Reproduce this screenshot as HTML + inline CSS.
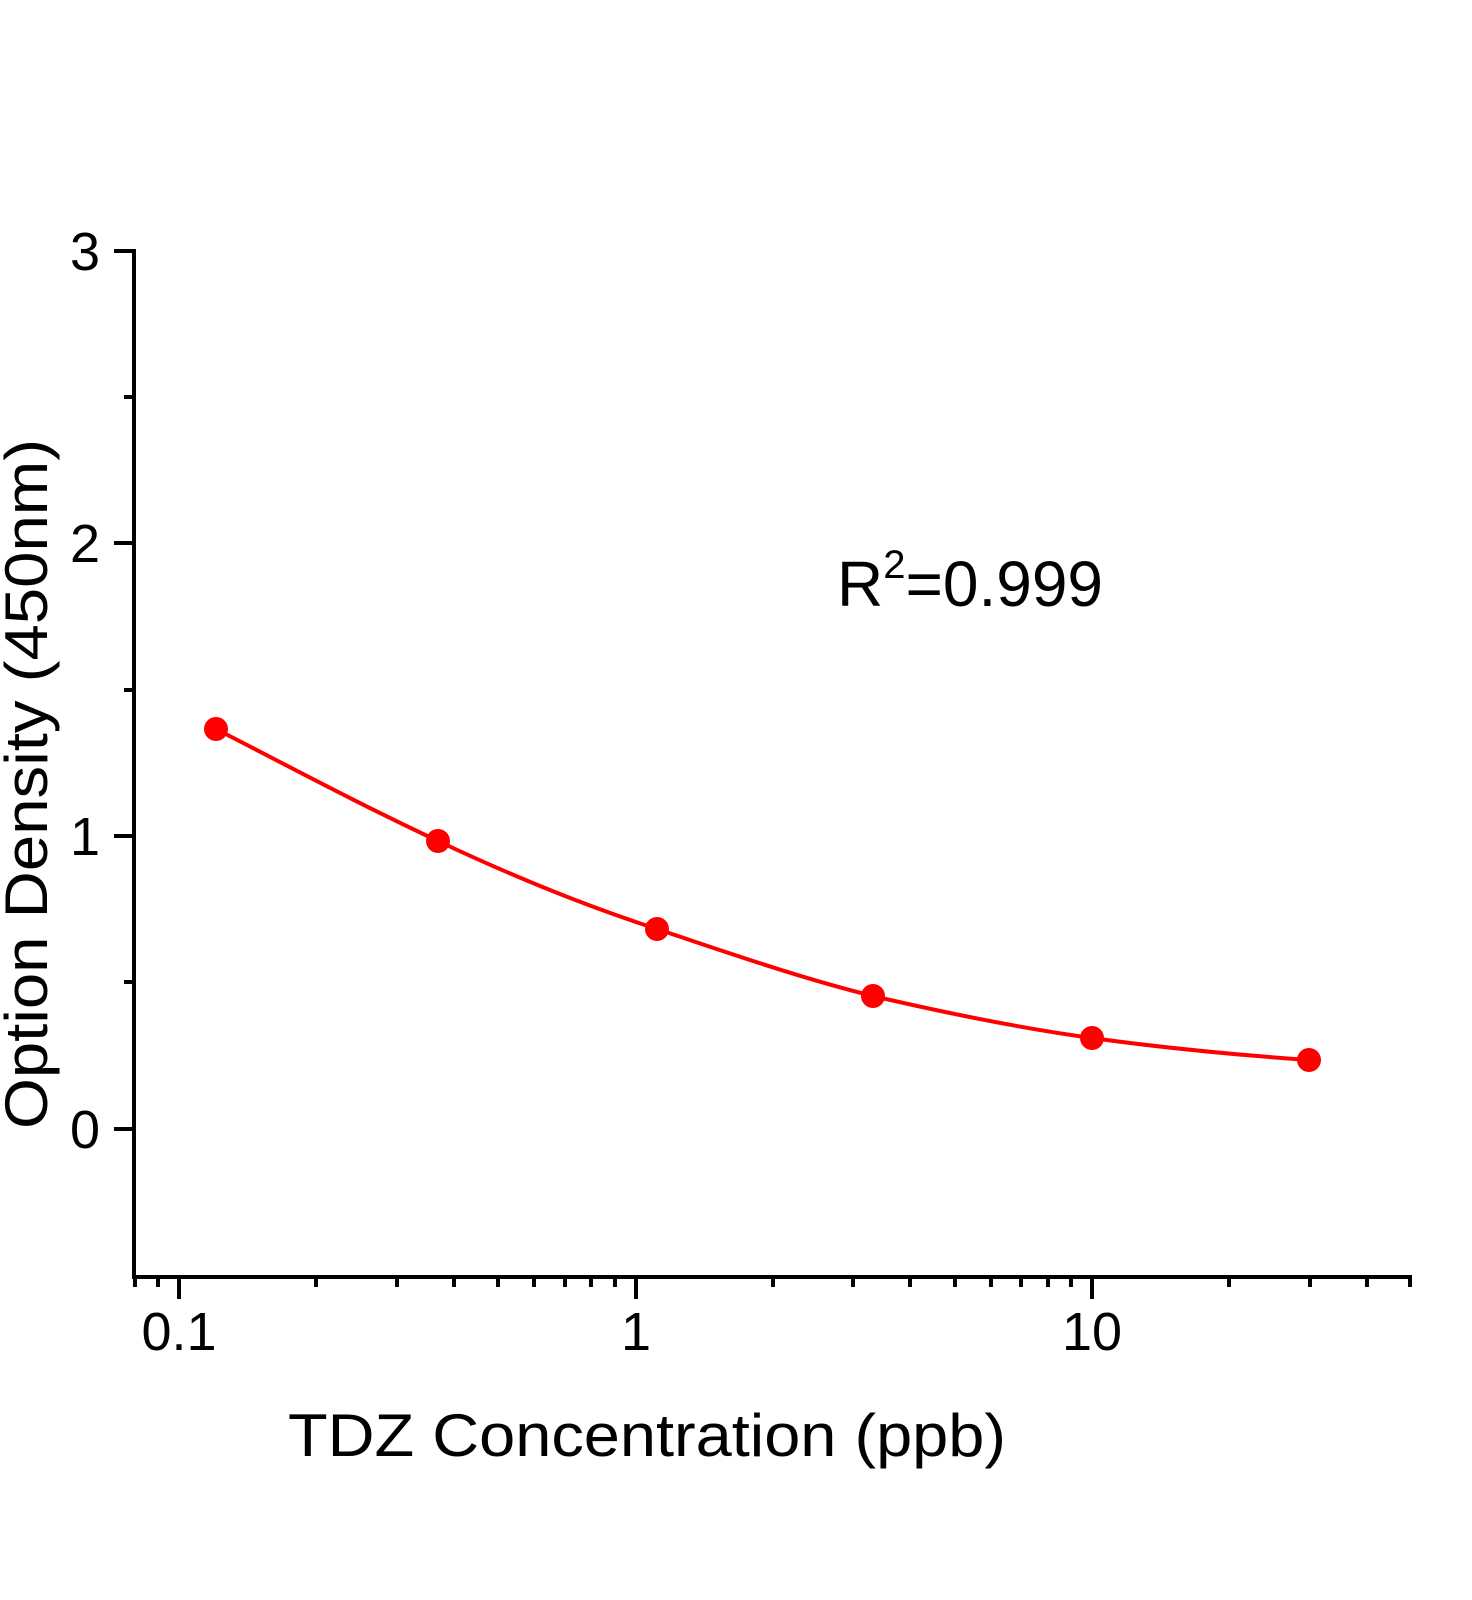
<!DOCTYPE html>
<html><head><meta charset="utf-8"><style>
html,body{margin:0;padding:0;background:#fff;}
svg{display:block;}
text{font-family:"Liberation Sans",sans-serif;fill:#000;}
</style></head><body>
<svg width="1472" height="1600" viewBox="0 0 1472 1600" xmlns="http://www.w3.org/2000/svg">
<g stroke="#000" stroke-width="4" fill="none" stroke-linecap="butt">
<path d="M134,249 V1279 M132,1277 H1412"/>
<path d="M114,251 H134 M114,543 H134 M114,836 H134 M114,1129 H134"/>
<path d="M124,397 H134 M124,690 H134 M124,982 H134"/>
<path d="M179,1277 V1299 M636,1277 V1299 M1092,1277 V1299"/>
<path d="M135,1277 V1287 M158,1277 V1287 M316,1277 V1287 M397,1277 V1287 M454,1277 V1287 M498,1277 V1287 M534,1277 V1287 M565,1277 V1287 M591,1277 V1287 M615,1277 V1287 M773,1277 V1287 M853,1277 V1287 M910,1277 V1287 M955,1277 V1287 M991,1277 V1287 M1021,1277 V1287 M1048,1277 V1287 M1071,1277 V1287 M1229,1277 V1287 M1310,1277 V1287 M1367,1277 V1287 M1410,1277 V1287"/>
</g>
<g font-size="54" text-anchor="end">
<text x="100" y="270">3</text>
<text x="100" y="562">2</text>
<text x="100" y="855">1</text>
<text x="100" y="1148">0</text>
</g>
<g font-size="54" text-anchor="middle">
<text x="179" y="1350">0.1</text>
<text x="636" y="1350">1</text>
<text x="1092" y="1350">10</text>
</g>
<text x="288" y="1456" font-size="60" textLength="718" lengthAdjust="spacingAndGlyphs">TDZ Concentration  (ppb)</text>
<text transform="translate(47,1129) rotate(-90)" font-size="60" textLength="690" lengthAdjust="spacingAndGlyphs">Option Density  (450nm)</text>
<text x="837" y="606" font-size="64">R<tspan font-size="40" dy="-28">2</tspan><tspan dy="28">=0.999</tspan></text>
<path d="M216,729 C290,767 363,806 438,841 C510,875 583,905 657,929 C729,953 800,978 873,996 C946,1013 1019,1028 1092,1038 C1164,1048 1237,1055 1309,1060" stroke="#ff0000" stroke-width="4" fill="none"/>
<g fill="#ff0000">
<circle cx="216" cy="729" r="12"/>
<circle cx="438" cy="841" r="12"/>
<circle cx="657" cy="929" r="12"/>
<circle cx="873" cy="996" r="12"/>
<circle cx="1092" cy="1038" r="12"/>
<circle cx="1309" cy="1060" r="12"/>
</g>
</svg>
</body></html>
